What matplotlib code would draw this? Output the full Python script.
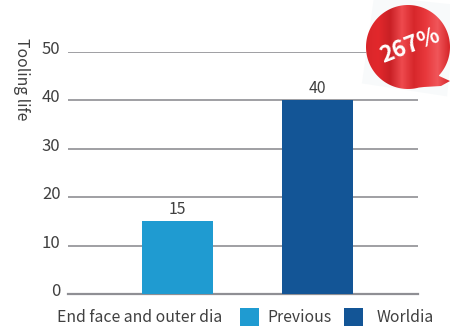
import matplotlib
matplotlib.use('Agg')
import matplotlib.pyplot as plt
import numpy as np
from matplotlib.colors import LinearSegmentedColormap
from matplotlib.patches import Polygon, Rectangle
from matplotlib.transforms import Affine2D, ScaledTranslation

plt.rcParams['font.family'] = ['Noto Sans CJK SC', 'DejaVu Sans']

categories = ['Previous', 'Worldia']
values = [15, 40]
colores = ['#1f9bd1', '#135596']
yticks = [0, 10, 20, 30, 40, 50]
x_label = 'End face and outer dia'
y_label = 'Tooling life'
badge = '267%'

W, H = 450, 328
TXT = '#404040'
GRIS = '#8f8f94'
FS = 11.35

fig = plt.figure(figsize=(W / 100, H / 100), dpi=100)
ax = fig.add_axes([68 / W, (H - 294) / H, 350 / W, 242 / H])

x = np.arange(len(values))
ax.bar(x, values, width=0.507, color=colores, zorder=3)
for xi, v in zip(x, values):
    ax.text(xi, v + 0.7, str(v), ha='center', va='bottom', fontsize=FS, color=TXT, zorder=4)

ax.set_xlim(-0.782, 1.718)
ax.set_ylim(0, 50)
ax.set_yticks(yticks)
ax.set_xticks([])
ax.grid(axis='y', color=GRIS, lw=1.2, zorder=1)
ax.set_axisbelow(True)
ax.tick_params(axis='y', length=0, pad=5.4, labelsize=12, labelcolor=TXT)
for lado in ['top', 'right', 'left']:
    ax.spines[lado].set_visible(False)
ax.spines['bottom'].set_color(GRIS)
ax.spines['bottom'].set_linewidth(1.6)
ax.spines['bottom'].set_zorder(2)
# las etiquetas van un poco por encima de su linea
sube = ScaledTranslation(0, 4.5 / 100, fig.dpi_scale_trans)
for lbl in ax.get_yticklabels():
    lbl.set_transform(lbl.get_transform() + sube)

# textos de fuera del eje, en pixeles de la figura
over = fig.add_axes([0, 0, 1, 1], zorder=5)
over.set_xlim(0, W)
over.set_ylim(H, 0)
over.axis('off')

over.text(21, 79, y_label, rotation=270, ha='center', va='center', fontsize=FS, color=TXT)
over.text(57, 317, x_label, ha='left', va='center', fontsize=FS, color=TXT)
over.add_patch(Rectangle((240, 308), 19, 18, color=colores[0], lw=0))
over.text(267, 317, categories[0], ha='left', va='center', fontsize=FS, color=TXT)
over.add_patch(Rectangle((344, 308), 19, 18, color=colores[1], lw=0))
over.text(377, 317, categories[1], ha='left', va='center', fontsize=FS, color=TXT)

# burbuja roja
rot = Affine2D().rotate_deg_around(408, 47, 6)
over.add_patch(Polygon(rot.transform([(369, 0), (452, 0), (452, 92), (366, 88)]),
                       closed=True, color='#f8fafb', lw=0, zorder=1))
rojo = LinearSegmentedColormap.from_list('rojo', ['#d9262a', '#e2282c', '#c92025', '#ee4a4e',
                                                  '#d7272b', '#e8383c', '#f0565a', '#d62529'])
img = over.imshow(np.linspace(0, 1, 200).reshape(1, -1), cmap=rojo, aspect='auto',
                  extent=(366, 450, 90, 4), zorder=2)
grados = np.linspace(75, 405, 150)
ang = np.radians(grados)
borde = np.column_stack([408 + 42 * np.cos(ang), 47 + 42 * np.sin(ang)])
cola = [(437, 75), (450, 81), (441, 86), (424, 87)]
clip = Polygon(np.vstack([borde, cola]), closed=True, transform=over.transData, fc='none', ec='none')
over.add_patch(clip)
img.set_clip_path(clip)
over.set_xlim(0, W)
over.set_ylim(H, 0)
over.text(410, 46, badge, rotation=21, rotation_mode='anchor', ha='center', va='center',
          fontsize=16.5, fontweight='bold', color='white', zorder=3)

fig.savefig('out.png', dpi=100)
